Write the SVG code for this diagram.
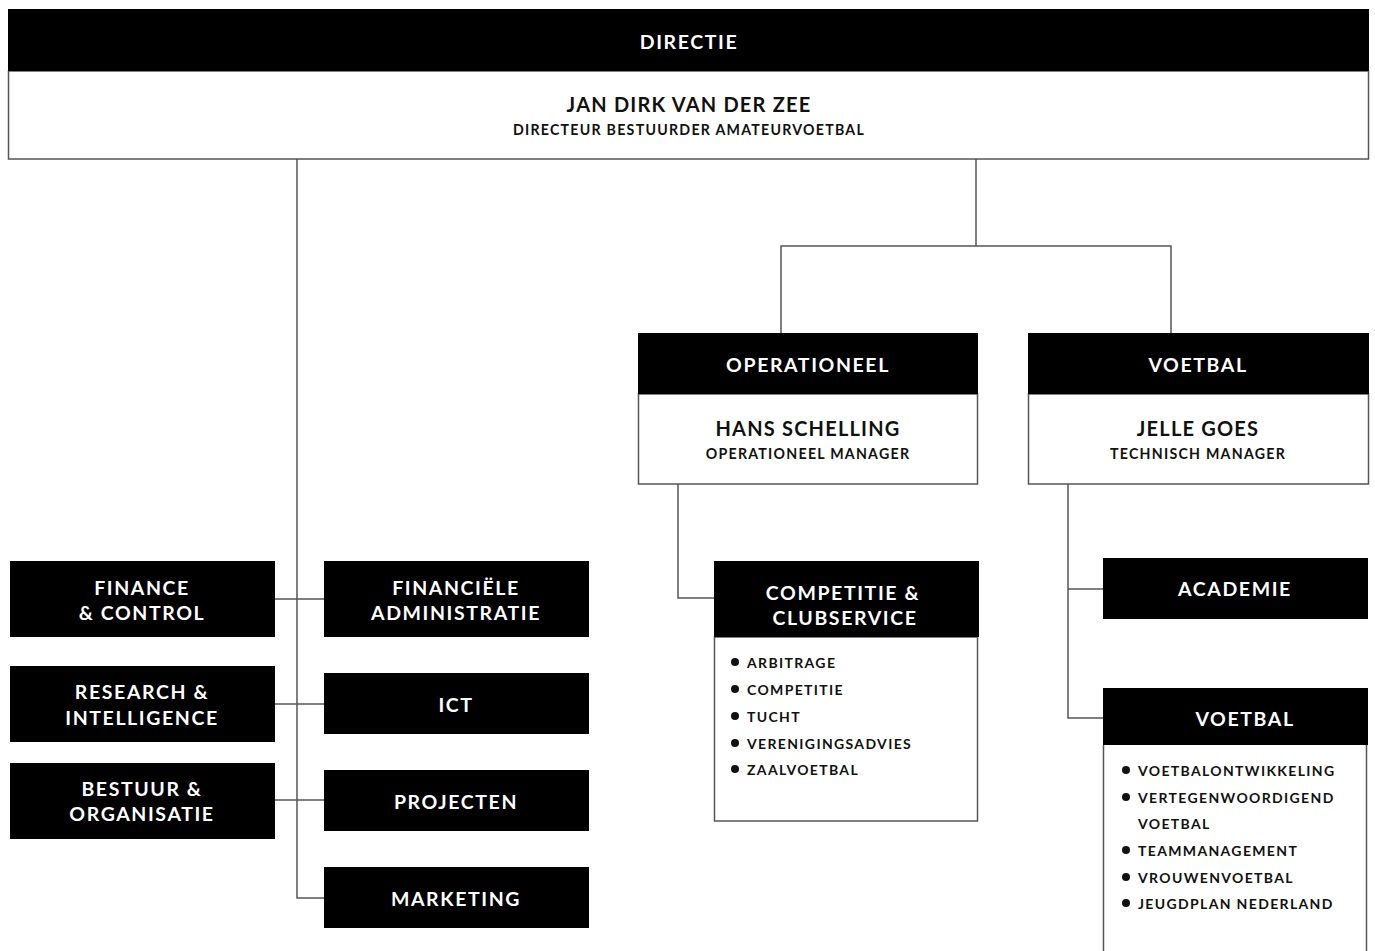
<svg xmlns="http://www.w3.org/2000/svg" width="1375" height="951" viewBox="0 0 1375 951">
<style>
.blk{fill:#000}
.wht{fill:#fff;stroke:#555;stroke-width:1.5}
.conn{fill:none;stroke:#555;stroke-width:1.5}
text{font-family:Lato,"Open Sans","Liberation Sans",sans-serif;font-weight:700;dominant-baseline:central}
.h{fill:#fff;font-size:19.5px;letter-spacing:1.6px;text-anchor:middle}
.n{fill:#111;font-size:20px;letter-spacing:1.2px;text-anchor:middle}
.r{fill:#111;font-size:14.2px;letter-spacing:1.25px;text-anchor:middle}
.li{fill:#111;font-size:14px;letter-spacing:1.35px}
.dot{fill:#111}
</style>
<rect width="1375" height="951" fill="#fff"/>
<g id="connectors">
<path class="conn" d="M297,159 V898 H324"/>
<path class="conn" d="M274,599 H324"/>
<path class="conn" d="M274,704 H324"/>
<path class="conn" d="M274,800 H324"/>
<path class="conn" d="M976,159 V246"/>
<path class="conn" d="M781,333 V246 H1171 V333"/>
<path class="conn" d="M678,484 V598 H714"/>
<path class="conn" d="M1068,484 V718 H1103"/>
<path class="conn" d="M1068,589 H1103"/>
</g>
<g id="directie">
<rect class="wht" x="8.5" y="71" width="1360" height="88"/>
<rect class="blk" x="8" y="9" width="1361" height="62"/>
<text class="h" x="689" y="41">DIRECTIE</text>
<text class="n" x="689" y="104">JAN DIRK VAN DER ZEE</text>
<text class="r" x="689" y="129">DIRECTEUR BESTUURDER AMATEURVOETBAL</text>
</g>
<g id="operationeel">
<rect class="wht" x="638.5" y="394" width="339" height="90"/>
<rect class="blk" x="638" y="333" width="340" height="61"/>
<text class="h" x="808" y="364">OPERATIONEEL</text>
<text class="n" x="808" y="428">HANS SCHELLING</text>
<text class="r" x="808" y="453">OPERATIONEEL MANAGER</text>
</g>
<g id="voetbal-top">
<rect class="wht" x="1028.5" y="394" width="340" height="90"/>
<rect class="blk" x="1028" y="333" width="341" height="61"/>
<text class="h" x="1198" y="364">VOETBAL</text>
<text class="n" x="1198" y="428">JELLE GOES</text>
<text class="r" x="1198" y="453">TECHNISCH MANAGER</text>
</g>
<g id="finance">
<rect class="blk" x="10" y="561" width="265" height="76"/>
<text class="h" x="142" y="587">FINANCE</text>
<text class="h" x="142" y="612">&amp; CONTROL</text>
</g>
<g id="financiele">
<rect class="blk" x="324" y="561" width="265" height="76"/>
<text class="h" x="456" y="587">FINANCIËLE</text>
<text class="h" x="456" y="612">ADMINISTRATIE</text>
</g>
<g id="research">
<rect class="blk" x="10" y="666" width="265" height="76"/>
<text class="h" x="142" y="691">RESEARCH &amp;</text>
<text class="h" x="142" y="717">INTELLIGENCE</text>
</g>
<g id="ict">
<rect class="blk" x="324" y="673" width="265" height="61"/>
<text class="h" x="456" y="704">ICT</text>
</g>
<g id="bestuur">
<rect class="blk" x="10" y="763" width="265" height="76"/>
<text class="h" x="142" y="788">BESTUUR &amp;</text>
<text class="h" x="142" y="813">ORGANISATIE</text>
</g>
<g id="projecten">
<rect class="blk" x="324" y="770" width="265" height="61"/>
<text class="h" x="456" y="801">PROJECTEN</text>
</g>
<g id="marketing">
<rect class="blk" x="324" y="867" width="265" height="61"/>
<text class="h" x="456" y="898">MARKETING</text>
</g>
<g id="competitie">
<rect class="wht" x="714.5" y="637" width="263" height="184"/>
<rect class="blk" x="714" y="561" width="265" height="76"/>
<text class="h" x="843" y="592">COMPETITIE &amp;</text>
<text class="h" x="845" y="617">CLUBSERVICE</text>
<circle class="dot" cx="735" cy="662" r="4"/><text class="li" x="747" y="662">ARBITRAGE</text>
<circle class="dot" cx="735" cy="689" r="4"/><text class="li" x="747" y="689">COMPETITIE</text>
<circle class="dot" cx="735" cy="716" r="4"/><text class="li" x="747" y="716">TUCHT</text>
<circle class="dot" cx="735" cy="743" r="4"/><text class="li" x="747" y="743">VERENIGINGSADVIES</text>
<circle class="dot" cx="735" cy="769" r="4"/><text class="li" x="747" y="769">ZAALVOETBAL</text>
</g>
<g id="academie">
<rect class="blk" x="1103" y="558" width="265" height="61"/>
<text class="h" x="1235" y="588">ACADEMIE</text>
</g>
<g id="voetbal-sub">
<path class="conn" d="M1103.5,745 V951 M1366.5,745 V951"/>
<rect class="blk" x="1103" y="688" width="265" height="57"/>
<text class="h" x="1245" y="718">VOETBAL</text>
<circle class="dot" cx="1126" cy="770" r="4"/><text class="li" x="1138" y="770">VOETBALONTWIKKELING</text>
<circle class="dot" cx="1126" cy="797" r="4"/><text class="li" x="1138" y="797">VERTEGENWOORDIGEND</text>
<text class="li" x="1138" y="823">VOETBAL</text>
<circle class="dot" cx="1126" cy="850" r="4"/><text class="li" x="1138" y="850">TEAMMANAGEMENT</text>
<circle class="dot" cx="1126" cy="877" r="4"/><text class="li" x="1138" y="877">VROUWENVOETBAL</text>
<circle class="dot" cx="1126" cy="903" r="4"/><text class="li" x="1138" y="903">JEUGDPLAN NEDERLAND</text>
</g>
</svg>
